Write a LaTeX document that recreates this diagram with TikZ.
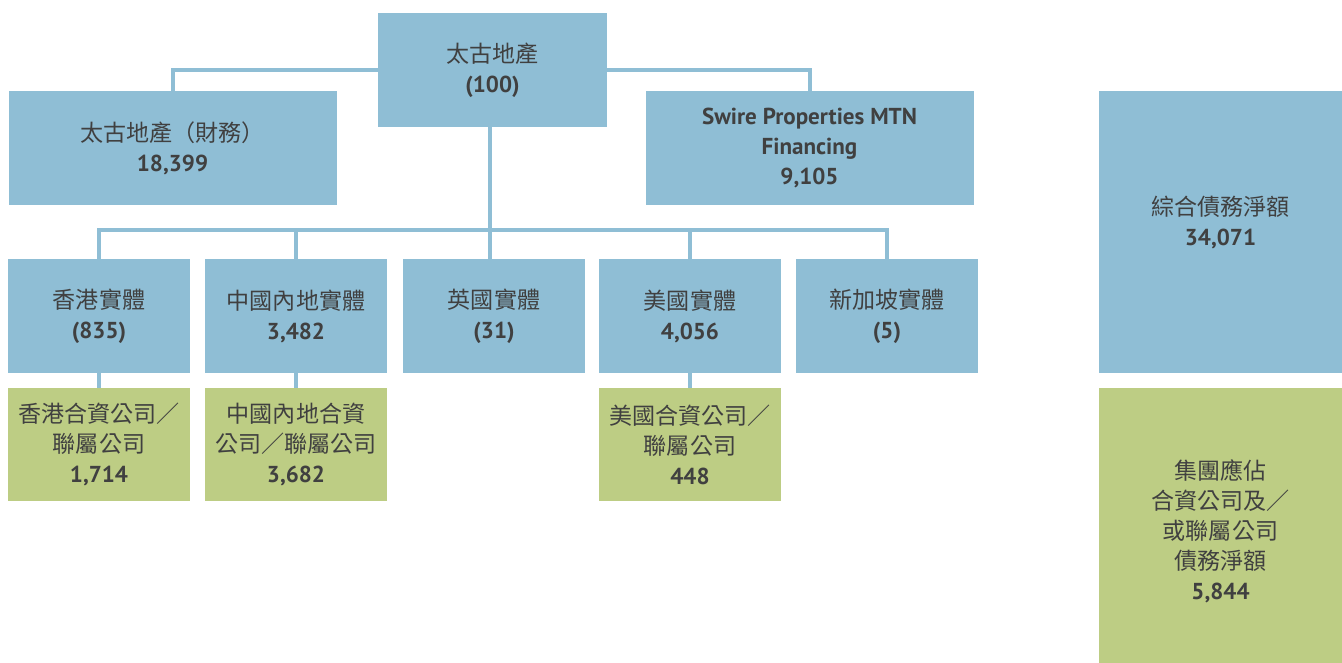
\documentclass[tikz,border=0pt]{standalone}
\usepackage{fontspec}
\setmainfont{PT Sans}
\newfontfamily\cjk{Noto Sans CJK TC}
\definecolor{boxblue}{HTML}{8FBED5}
\definecolor{boxgreen}{HTML}{BDCD84}
\definecolor{labelgray}{HTML}{404040}
\tikzset{
  chart/.style={
    x=0.75pt, y=-0.75pt,
    every node/.style={align=center, text=labelgray, inner sep=0pt,
      font=\fontsize{17.3pt}{22.5pt}\selectfont},
    entity/.style={fill=boxblue, minimum width=136.5pt, minimum height=85.5pt},
    wide entity/.style={fill=boxblue, minimum width=246pt, minimum height=85.5pt},
    jv/.style={fill=boxgreen, minimum width=136.5pt, minimum height=84.75pt},
    link/.style={draw=boxblue, line width=3pt}
  }
}
\begin{document}
\begin{tikzpicture}[chart]
  \useasboundingbox (0,0) rectangle (1342,663);
  % top level
  \node[entity, minimum width=171.75pt] (swp) at (492.5,70)
    {{\cjk 太古地產}\\\textbf{(100)}};
  \node[wide entity] (fin) at (172.5,148)
    {{\cjk 太古地產（財務）}\\\textbf{18,399}};
  \node[wide entity] (mtn) at (809.5,148)
    {\textbf{Swire Properties MTN}\\\textbf{Financing}\\\textbf{9,105}};
  % entities
  \node[entity] (hk) at (99,316) {{\cjk 香港實體}\\\textbf{(835)}};
  \node[entity] (cn) at (296,316) {{\cjk 中國內地實體}\\\textbf{3,482}};
  \node[entity] (uk) at (494,316) {{\cjk 英國實體}\\\textbf{(31)}};
  \node[entity] (us) at (690,316) {{\cjk 美國實體}\\\textbf{4,056}};
  \node[entity] (sg) at (887,316) {{\cjk 新加坡實體}\\\textbf{(5)}};
  % joint ventures
  \node[jv] (hkjv) at (99,444.5) {{\cjk 香港合資公司／}\\{\cjk 聯屬公司}\\\textbf{1,714}};
  \node[jv] (cnjv) at (296,444.5) {{\cjk 中國內地合資}\\{\cjk 公司／聯屬公司}\\\textbf{3,682}};
  \node[jv] (usjv) at (690,444.5) {{\cjk 美國合資公司／}\\{\cjk 聯屬公司}\\\textbf{448}};
  % totals
  \node[entity, minimum width=182.25pt, minimum height=211.5pt] (net) at (1220.5,232) {};
  \node (netlabel) at (1220.5,222) {{\cjk 綜合債務淨額}\\\textbf{34,071}};
  \node[jv, minimum width=182.25pt, minimum height=206.25pt] (share) at (1220.5,525.5) {};
  \node (sharelabel) at (1220.5,531)
    {{\cjk 集團應佔}\\{\cjk 合資公司及／}\\{\cjk 或聯屬公司}\\{\cjk 債務淨額}\\\textbf{5,844}};
  % links
  \coordinate (bus) at (490,230);
  \begin{scope}[on background layer/.try]
    \draw[link] (swp.west) -| (fin.north);
    \draw[link] (swp.east) -| (mtn.north);
    \draw[link] (swp.south -| bus) -- (bus);
    \draw[link] (hk.north) |- (bus) -| (sg.north);
    \draw[link] (bus) -- (bus |- uk.north);
    \foreach \e in {cn,us}
      \draw[link] (\e.north) -- (\e.north |- bus);
    \draw[link] (hk.south) -- (hkjv.north);
    \draw[link] (cn.south) -- (cnjv.north);
    \draw[link] (us.south) -- (usjv.north);
  \end{scope}
\end{tikzpicture}
\end{document}
